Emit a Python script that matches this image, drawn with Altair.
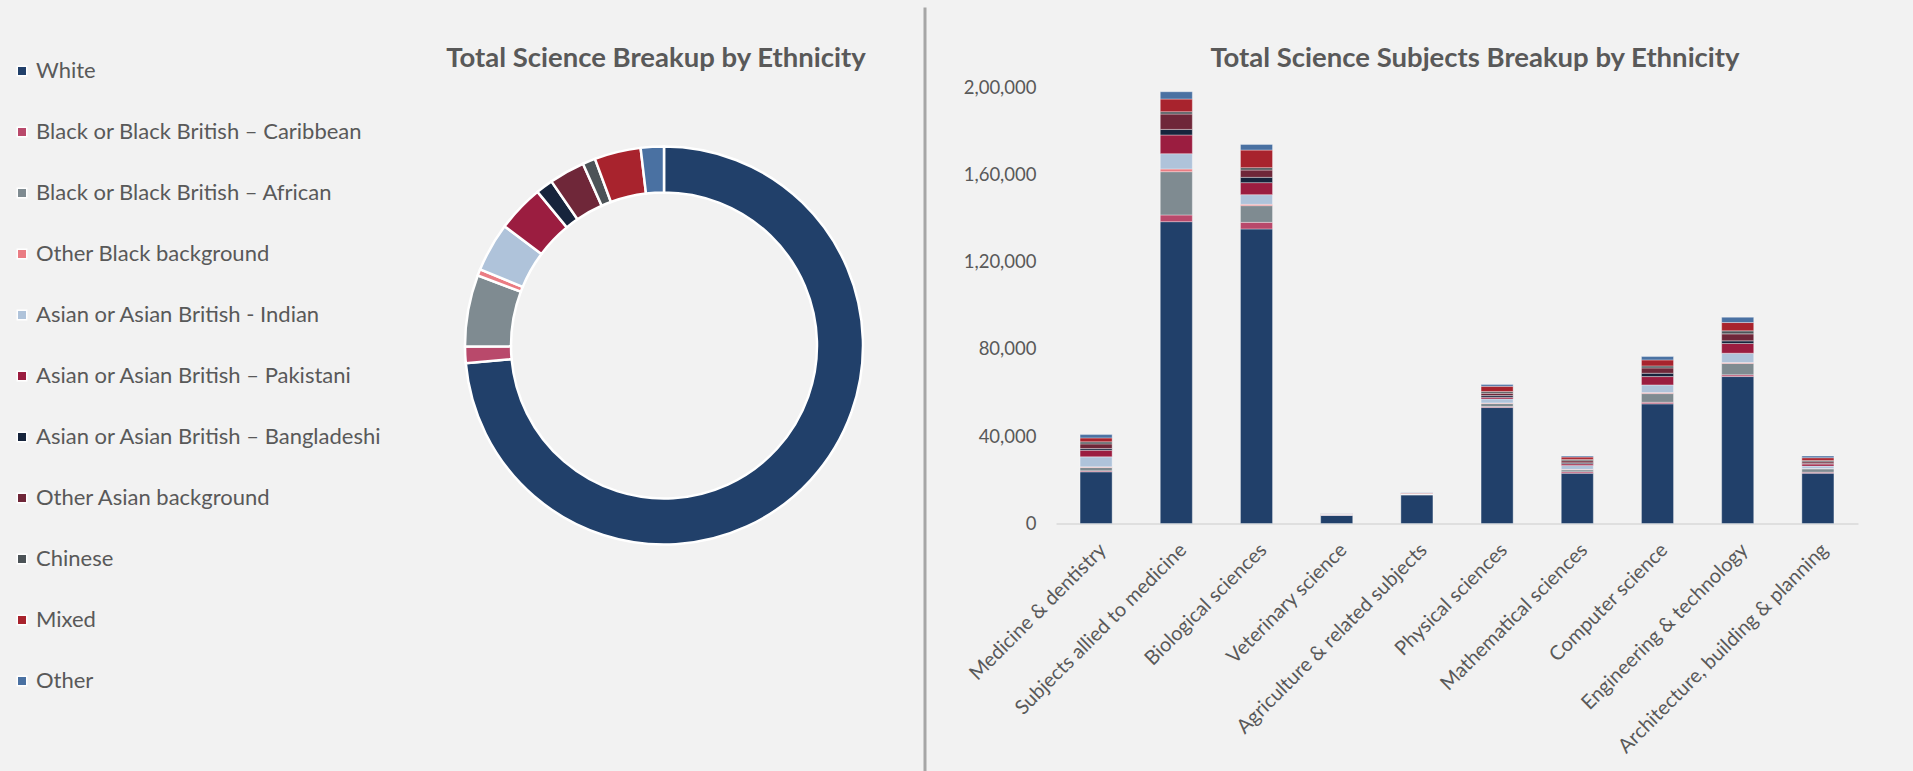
import altair as alt
import pandas as pd

# Subjects (x categories of the stacked bars)
subjects = [
    "Medicine & dentistry",
    "Subjects allied to medicine",
    "Biological sciences",
    "Veterinary science",
    "Agriculture & related subjects",
    "Physical sciences",
    "Mathematical sciences",
    "Computer science",
    "Engineering & technology",
    "Architecture, building & planning",
]

# Ethnic groups, in stacking / legend order
ethnicities = [
    "White",
    "Black or Black British – Caribbean",
    "Black or Black British – African",
    "Other Black background",
    "Asian or Asian British - Indian",
    "Asian or Asian British – Pakistani",
    "Asian or Asian British – Bangladeshi",
    "Other Asian background",
    "Chinese",
    "Mixed",
    "Other",
]

palette = [
    "#21406A", "#B9496B", "#7F8B91", "#EA7C83", "#AFC3DA", "#9B1D40",
    "#16243C", "#6F2739", "#4C5357", "#A8232D", "#4A71A2",
]

# Student counts per subject for each ethnic group
white       = [23680, 138300, 134970, 3800, 13140, 53130, 23040, 54820, 67330, 23040]
caribbean   = [460, 3070, 3020, 50, 60, 460, 640, 730, 780, 460]
african     = [1510, 19830, 7650, 150, 120, 1370, 920, 3970, 5190, 1530]
other_black = [300, 1240, 600, 20, 30, 300, 200, 460, 460, 200]
indian      = [4580, 7010, 4440, 150, 150, 1830, 1830, 3520, 4260, 1070]
pakistani   = [3020, 8560, 5500, 60, 50, 730, 730, 3820, 4440, 920]
bangladeshi = [780, 2560, 2430, 20, 20, 780, 460, 1530, 1220, 320]
other_asian = [2150, 7050, 3340, 90, 70, 1050, 920, 2440, 3210, 730]
chinese     = [920, 1050, 1100, 60, 50, 780, 640, 920, 1370, 640]
mixed       = [1830, 5820, 8060, 120, 270, 2430, 1050, 2750, 3820, 1220]
other       = [1510, 3340, 2600, 60, 150, 780, 460, 1530, 2440, 780]

series = [white, caribbean, african, other_black, indian, pakistani,
          bangladeshi, other_asian, chinese, mixed, other]

y_ticks = [0, 40000, 80000, 120000, 160000, 200000]

rows = []
for rank, (eth, vals) in enumerate(zip(ethnicities, series)):
    for subj, v in zip(subjects, vals):
        rows.append({"subject": subj, "ethnicity": eth, "rank": rank, "value": v})
df = pd.DataFrame(rows)

FONT = "Lato"
TEXT = "#595959"
BG = "#F2F2F2"

left_w, left_h = 518, 517
right_w, right_h = 802, 436.5

color_scale = alt.Scale(domain=ethnicities, range=palette)

# Donut: overall share of each ethnic group
donut = (
    alt.Chart(df, title=alt.Title("Total Science Breakup by Ethnicity", dx=-8, offset=-12))
    .transform_aggregate(total="sum(value)", groupby=["ethnicity", "rank"])
    .mark_arc(innerRadius=153, outerRadius=199, stroke="white", strokeWidth=2.5)
    .encode(
        theta=alt.Theta("total:Q", stack=True),
        color=alt.Color(
            "ethnicity:N",
            scale=color_scale,
            sort=ethnicities,
            legend=alt.Legend(
                title=None,
                orient="none",
                legendX=-394,
                legendY=-27,
                symbolType="square",
                symbolSize=90,
                symbolStrokeColor="white",
                symbolStrokeWidth=1.5,
                labelFont=FONT,
                labelFontSize=22,
                labelColor=TEXT,
                labelOffset=3,
                labelLimit=600,
                rowPadding=39,
                padding=0,
            ),
        ),
        order=alt.Order("rank:Q", sort="ascending"),
    )
    .properties(width=left_w, height=left_h)
)

# Vertical separator between the two panels
divider = (
    alt.Chart(pd.DataFrame({"edge": [0]}))
    .mark_rule(color="#A6A6A6", strokeWidth=3)
    .encode(x=alt.value(0), y=alt.value(-79.5), y2=alt.value(685.5))
    .properties(width=38, height=left_h)
)

indian_format = (
    "datum.value >= 100000 ? "
    "floor(datum.value / 100000) + ',' + "
    "pad(floor((datum.value % 100000) / 1000) + '', 2, '0', 'left') + ',' + "
    "pad((datum.value % 1000) + '', 3, '0', 'left') : format(datum.value, ',')"
)

# Stacked bars: breakdown by subject
bars = (
    alt.Chart(df, title=alt.Title("Total Science Subjects Breakup by Ethnicity", dx=18, offset=6))
    .mark_bar(stroke="white", strokeWidth=0.6, strokeOpacity=0.6)
    .encode(
        x=alt.X(
            "subject:N",
            sort=subjects,
            title=None,
            scale=alt.Scale(paddingInner=0.6, paddingOuter=0.3),
            axis=alt.Axis(
                labelAngle=-45,
                labelAlign="right",
                labelBaseline="top",
                labelFont=FONT,
                labelFontSize=20,
                labelColor=TEXT,
                labelPadding=16,
                labelLimit=400,
                ticks=False,
                domainColor="#D9D9D9",
                domainWidth=1.5,
            ),
        ),
        y=alt.Y(
            "value:Q",
            stack="zero",
            title=None,
            scale=alt.Scale(domain=[0, 200000]),
            axis=alt.Axis(
                values=y_ticks,
                labelExpr=indian_format,
                labelFont=FONT,
                labelFontSize=18.5,
                labelColor=TEXT,
                labelPadding=20,
                ticks=False,
                domain=False,
                grid=False,
            ),
        ),
        color=alt.Color("ethnicity:N", scale=color_scale, legend=None),
        order=alt.Order("rank:Q", sort="ascending"),
    )
    .properties(width=right_w, height=right_h)
)

chart = (
    alt.hconcat(donut, divider, bars, spacing=0)
    .resolve_scale(color="independent")
    .properties(
        background=BG,
        padding={"left": 11, "top": 6, "right": 55, "bottom": 0},
    )
    .configure_view(stroke=None)
    .configure_title(
        font=FONT,
        fontSize=27.5,
        fontWeight="bold",
        color=TEXT,
        anchor="middle",
        frame="group",
    )
)

chart.save("out.html", embed_options={"renderer": "svg", "actions": False})
